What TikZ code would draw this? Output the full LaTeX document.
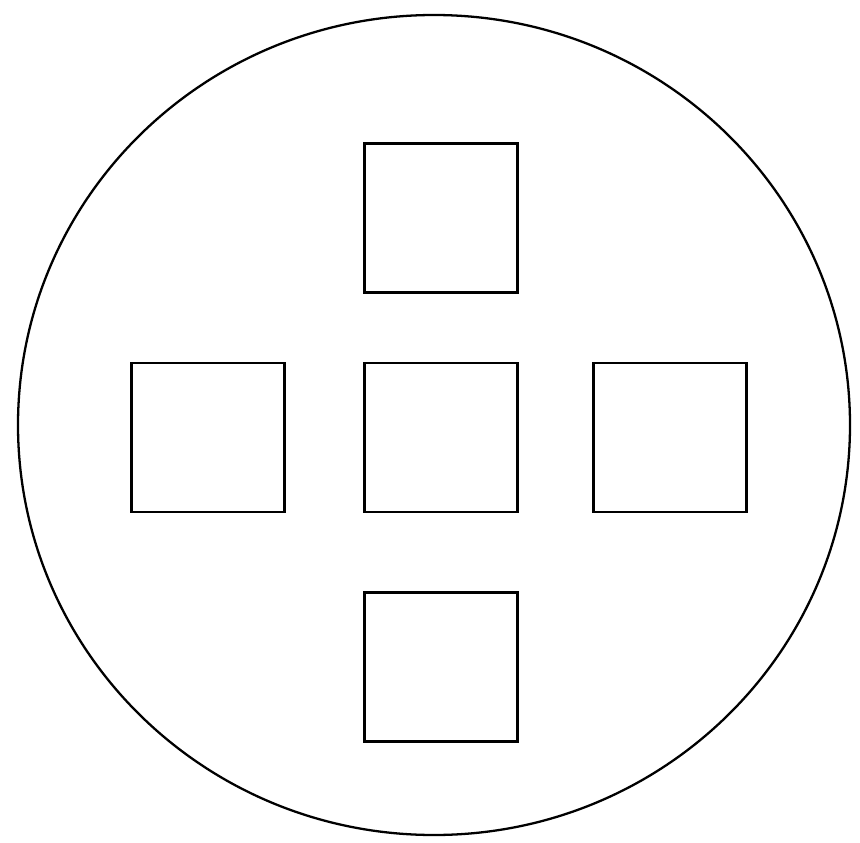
\documentclass[tikz,border=0pt]{standalone}
\usetikzlibrary{positioning}

\begin{document}
\begin{tikzpicture}[
  cell/.style={draw, line width=1.6pt, minimum width=3.06cm, minimum height=2.98cm, inner sep=0pt},
  rim/.style={draw, line width=1.3pt}
]
  \useasboundingbox (0,0) rectangle (17.2,-16.86);
  \draw[rim] (8.68,-8.5) ellipse [x radius=8.32cm, y radius=8.2cm];

  \node[cell] (centre) at (8.82,-8.75) {};
  \node[cell, above=1.36cm of centre] (top) {};
  \node[cell, below=1.56cm of centre] (bottom) {};
  \node[cell, left=1.54cm of centre] (left) {};
  \node[cell, right=1.46cm of centre] (right) {};
\end{tikzpicture}
\end{document}
